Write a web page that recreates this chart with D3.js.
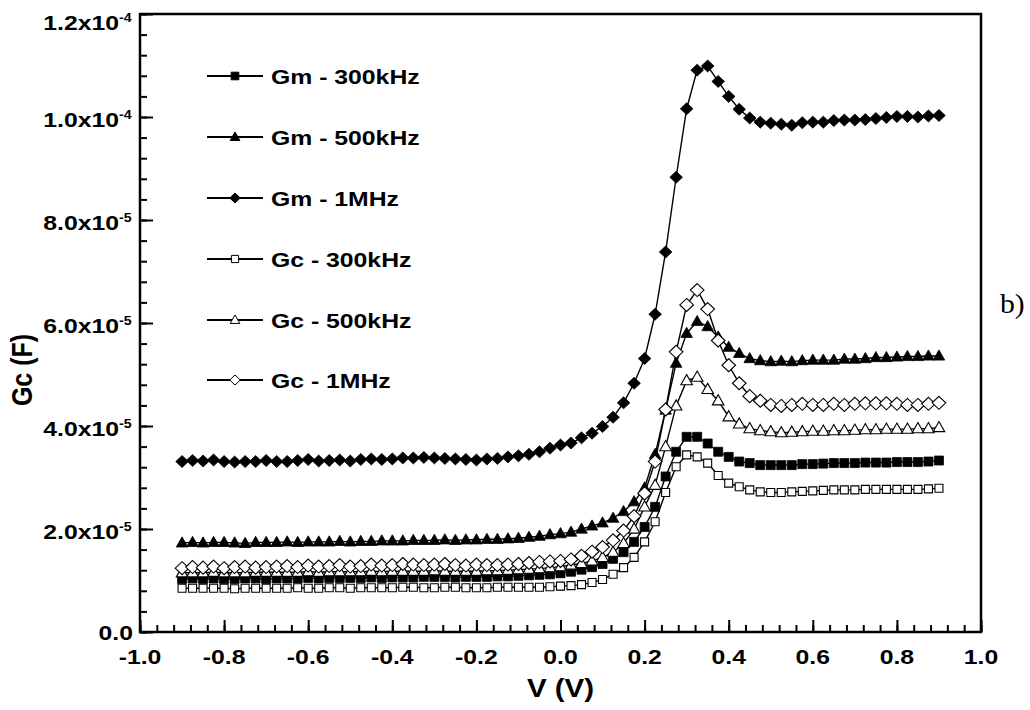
<!DOCTYPE html>
<html>
<head>
<meta charset="utf-8">
<script src="https://cdn.jsdelivr.net/npm/d3@7"></script>
<style>
    body { margin: 0; background: #fff; }
    svg text { font-family: "Liberation Sans", Arial, sans-serif; font-weight: bold; fill: #000; }
</style>
</head>
<body>
<div id="chart"></div>
<script>

// bias voltage (V)
var voltage = [-0.9, -0.875, -0.85, -0.825, -0.8, -0.775, -0.75, -0.725, -0.7, -0.675,
    -0.65, -0.625, -0.6, -0.575, -0.55, -0.525, -0.5, -0.475, -0.45, -0.425,
    -0.4, -0.375, -0.35, -0.325, -0.3, -0.275, -0.25, -0.225, -0.2, -0.175,
    -0.15, -0.125, -0.1, -0.075, -0.05, -0.025, 0, 0.025, 0.05, 0.075,
    0.1, 0.125, 0.15, 0.175, 0.2, 0.225, 0.25, 0.275, 0.3, 0.325,
    0.35, 0.375, 0.4, 0.425, 0.45, 0.475, 0.5, 0.525, 0.55, 0.575,
    0.6, 0.625, 0.65, 0.675, 0.7, 0.725, 0.75, 0.775, 0.8, 0.825,
    0.85, 0.875, 0.9];

// values in units of 1e-5
var gm300k = [1.03, 1.04, 1.03, 1.04, 1.03, 1.03, 1.04, 1.04, 1.03, 1.04,
    1.04, 1.04, 1.05, 1.04, 1.05, 1.05, 1.05, 1.05, 1.06, 1.05,
    1.06, 1.06, 1.06, 1.07, 1.07, 1.07, 1.06, 1.07, 1.07, 1.07,
    1.08, 1.08, 1.09, 1.10, 1.11, 1.12, 1.14, 1.17, 1.21, 1.26,
    1.32, 1.42, 1.55, 1.75, 2.04, 2.43, 3.02, 3.50, 3.79, 3.79,
    3.66, 3.50, 3.40, 3.31, 3.28, 3.24, 3.24, 3.24, 3.24, 3.26,
    3.26, 3.27, 3.28, 3.28, 3.28, 3.29, 3.29, 3.29, 3.30, 3.30,
    3.30, 3.31, 3.33];

var gm500k = [1.73, 1.74, 1.73, 1.74, 1.74, 1.73, 1.72, 1.74, 1.74, 1.74,
    1.75, 1.74, 1.75, 1.75, 1.75, 1.76, 1.75, 1.76, 1.76, 1.77,
    1.77, 1.77, 1.78, 1.78, 1.78, 1.79, 1.78, 1.79, 1.79, 1.80,
    1.80, 1.81, 1.82, 1.84, 1.86, 1.89, 1.91, 1.94, 2.00, 2.06,
    2.12, 2.21, 2.34, 2.53, 2.80, 3.45, 4.31, 5.22, 5.80, 6.03,
    5.93, 5.73, 5.53, 5.41, 5.31, 5.27, 5.25, 5.26, 5.25, 5.27,
    5.28, 5.28, 5.28, 5.30, 5.30, 5.31, 5.33, 5.33, 5.34, 5.35,
    5.35, 5.36, 5.36];

var gm1M = [3.31, 3.33, 3.32, 3.34, 3.31, 3.30, 3.31, 3.31, 3.33, 3.31,
    3.31, 3.33, 3.35, 3.32, 3.33, 3.34, 3.32, 3.35, 3.36, 3.35,
    3.36, 3.38, 3.38, 3.39, 3.38, 3.37, 3.36, 3.35, 3.34, 3.36,
    3.37, 3.40, 3.42, 3.45, 3.50, 3.57, 3.63, 3.67, 3.77, 3.86,
    3.99, 4.17, 4.45, 4.83, 5.31, 6.17, 7.38, 8.83, 10.16, 10.91,
    10.99, 10.69, 10.40, 10.15, 9.98, 9.90, 9.88, 9.86, 9.84, 9.89,
    9.90, 9.90, 9.93, 9.94, 9.94, 9.95, 9.97, 9.99, 10.01, 10.01,
    10.00, 10.02, 10.03];

var gc300k = [0.85, 0.85, 0.85, 0.85, 0.85, 0.84, 0.85, 0.85, 0.85, 0.85,
    0.85, 0.86, 0.85, 0.85, 0.86, 0.86, 0.85, 0.86, 0.86, 0.86,
    0.86, 0.87, 0.87, 0.86, 0.86, 0.87, 0.87, 0.86, 0.86, 0.86,
    0.87, 0.87, 0.87, 0.87, 0.87, 0.88, 0.89, 0.90, 0.92, 0.96,
    1.02, 1.12, 1.25, 1.45, 1.75, 2.14, 2.71, 3.21, 3.44, 3.40,
    3.28, 3.04, 2.89, 2.82, 2.76, 2.72, 2.71, 2.71, 2.72, 2.73,
    2.74, 2.75, 2.76, 2.76, 2.76, 2.77, 2.77, 2.77, 2.77, 2.77,
    2.77, 2.78, 2.79];

var gc500k = [1.15, 1.15, 1.15, 1.16, 1.15, 1.15, 1.15, 1.16, 1.16, 1.16,
    1.16, 1.16, 1.17, 1.16, 1.17, 1.17, 1.17, 1.17, 1.18, 1.17,
    1.18, 1.18, 1.18, 1.18, 1.19, 1.18, 1.18, 1.18, 1.18, 1.19,
    1.19, 1.20, 1.21, 1.22, 1.23, 1.25, 1.27, 1.30, 1.33, 1.38,
    1.45, 1.55, 1.72, 2.00, 2.43, 2.85, 3.60, 4.39, 4.88, 4.95,
    4.71, 4.49, 4.18, 4.04, 3.95, 3.91, 3.89, 3.87, 3.88, 3.89,
    3.90, 3.90, 3.91, 3.91, 3.92, 3.93, 3.93, 3.94, 3.94, 3.94,
    3.95, 3.95, 3.97];

var gc1M = [1.24, 1.26, 1.25, 1.27, 1.24, 1.26, 1.27, 1.25, 1.26, 1.27,
    1.28, 1.26, 1.29, 1.27, 1.28, 1.30, 1.27, 1.28, 1.31, 1.29,
    1.30, 1.32, 1.31, 1.30, 1.31, 1.32, 1.30, 1.29, 1.31, 1.30,
    1.30, 1.31, 1.32, 1.34, 1.36, 1.37, 1.38, 1.41, 1.48, 1.56,
    1.65, 1.78, 1.97, 2.25, 2.69, 3.31, 4.32, 5.44, 6.35, 6.64,
    6.27, 5.66, 5.18, 4.83, 4.58, 4.49, 4.41, 4.39, 4.41, 4.43,
    4.41, 4.41, 4.43, 4.41, 4.43, 4.44, 4.44, 4.44, 4.43, 4.41,
    4.41, 4.43, 4.45];

var seriesNames = ['Gm - 300kHz', 'Gm - 500kHz', 'Gm - 1MHz', 'Gc - 300kHz', 'Gc - 500kHz', 'Gc - 1MHz'];
var seriesValues = [gm300k, gm500k, gm1M, gc300k, gc500k, gc1M];

var xTickValues = [-1.0, -0.8, -0.6, -0.4, -0.2, 0.0, 0.2, 0.4, 0.6, 0.8, 1.0];
var xTickLabels = ['-1.0', '-0.8', '-0.6', '-0.4', '-0.2', '0.0', '0.2', '0.4', '0.6', '0.8', '1.0'];
var yTickValues = [0, 2, 4, 6, 8, 10, 12];
var yTickMantissa = ['0.0', '2.0x10', '4.0x10', '6.0x10', '8.0x10', '1.0x10', '1.2x10'];
var yTickExponent = ['', '-5', '-5', '-5', '-5', '-4', '-4'];

var xTitle = 'V (V)';
var yTitle = 'Gc (F)';
var panelTag = 'b)';

drawChart('#chart');

function diamondShape(ctx, r) {
    ctx.moveTo(0, -r);
    ctx.lineTo(r * 1.05, 0);
    ctx.lineTo(0, r);
    ctx.lineTo(-r * 1.05, 0);
    ctx.closePath();
}

function squareShape(ctx, r) {
    ctx.moveTo(-r, -r);
    ctx.lineTo(r, -r);
    ctx.lineTo(r, r);
    ctx.lineTo(-r, r);
    ctx.closePath();
}

function triangleShape(ctx, r) {
    ctx.moveTo(0, -r * 1.1);
    ctx.lineTo(r * 1.05, r * 0.75);
    ctx.lineTo(-r * 1.05, r * 0.75);
    ctx.closePath();
}

function drawChart(element) {

    var width = 1030;
    var height = 710;
    var margin = ({ top: 14, right: 49, bottom: 78, left: 140 });
    var stretch = 'scale(1.18,1)';

    // marker style per series: shape, filled, half size in plot, half size in legend
    var styles = [
        { shape: squareShape, filled: true, r: 4.5, lr: 3.8 },
        { shape: triangleShape, filled: true, r: 5.5, lr: 4.6 },
        { shape: diamondShape, filled: true, r: 6, lr: 5 },
        { shape: squareShape, filled: false, r: 4, lr: 3.6 },
        { shape: triangleShape, filled: false, r: 5.5, lr: 4.6 },
        { shape: diamondShape, filled: false, r: 6.5, lr: 5 }
    ];

    var x = d3.scaleLinear()
        .domain([-1, 1])
        .range([margin.left, width - margin.right]);
    var y = d3.scaleLinear()
        .domain([0, 12])
        .range([height - margin.bottom, margin.top]);

    var svg = d3.select(element)
        .append('svg')
        .attr('width', width)
        .attr('height', height);

    // ticks point inward, labels drawn separately
    var xMinor = d3.range(-1, 1.0001, 0.04).map(d => +d.toFixed(2));
    var yMinor = d3.range(0, 12.0001, 0.4).map(d => +d.toFixed(1));

    svg.append('g')
        .attr('transform', `translate(0,${y(0)})`)
        .call(d3.axisBottom(x).tickValues(xMinor).tickSize(-7).tickFormat(''))
        .call(g => g.select('.domain').remove())
        .call(g => g.selectAll('line').attr('stroke-width', 2));
    svg.append('g')
        .attr('transform', `translate(0,${y(0)})`)
        .call(d3.axisBottom(x).tickValues(xTickValues).tickSize(-12).tickFormat(''))
        .call(g => g.select('.domain').remove())
        .call(g => g.selectAll('line').attr('stroke-width', 2));
    svg.append('g')
        .attr('transform', `translate(${x(-1)},0)`)
        .call(d3.axisLeft(y).tickValues(yMinor).tickSize(-7).tickFormat(''))
        .call(g => g.select('.domain').remove())
        .call(g => g.selectAll('line').attr('stroke-width', 2));
    svg.append('g')
        .attr('transform', `translate(${x(-1)},0)`)
        .call(d3.axisLeft(y).tickValues(yTickValues).tickSize(-13).tickFormat(''))
        .call(g => g.select('.domain').remove())
        .call(g => g.selectAll('line').attr('stroke-width', 2));

    // frame
    svg.append('rect')
        .attr('x', x(-1))
        .attr('y', y(12))
        .attr('width', x(1) - x(-1))
        .attr('height', y(0) - y(12))
        .attr('fill', 'none')
        .attr('stroke', '#000')
        .attr('stroke-width', 2.5);

    // x tick labels
    svg.append('g')
        .selectAll('text').data(xTickValues).enter().append('text')
        .attr('transform', d => `translate(${x(d)},664) ${stretch}`)
        .attr('text-anchor', 'middle')
        .attr('font-size', 21)
        .text((d, i) => xTickLabels[i]);

    // y tick labels with superscript exponent
    var yLab = svg.append('g')
        .selectAll('g').data(yTickValues).enter().append('g');
    yLab.append('text')
        .attr('transform', (d, i) => {
            var by = i === 0 ? y(d) + 8 : Math.max(y(d) + 10, 30);
            var ex = i === 0 ? 133 : 119;
            return `translate(${ex},${by}) ${stretch}`;
        })
        .attr('text-anchor', 'end')
        .attr('font-size', 21)
        .text((d, i) => yTickMantissa[i]);
    yLab.append('text')
        .attr('transform', d => `translate(119,${Math.max(y(d) + 10, 30) - 8}) ${stretch}`)
        .attr('text-anchor', 'start')
        .attr('font-size', 12)
        .text((d, i) => yTickExponent[i]);

    // axis titles
    svg.append('text')
        .attr('transform', `translate(${x(0)},697) ${stretch}`)
        .attr('text-anchor', 'middle')
        .attr('font-size', 25)
        .text(xTitle);
    svg.append('text')
        .attr('transform', `translate(32,370) ${stretch} rotate(-90)`)
        .attr('text-anchor', 'middle')
        .attr('font-size', 25)
        .text(yTitle);

    svg.append('text')
        .attr('transform', `translate(1000,313) scale(1.1,1)`)
        .style('font-family', '"Liberation Serif", "Times New Roman", serif')
        .style('font-weight', 'normal')
        .attr('font-size', 27)
        .text(panelTag);

    // series
    var line = d3.line()
        .x((d, i) => x(voltage[i]))
        .y(d => y(d));

    seriesValues.forEach((values, k) => {
        var st = styles[k];
        var sym = d3.symbol().type({ draw: st.shape }).size(st.r);
        var g = svg.append('g');
        g.append('path')
            .attr('d', line(values))
            .attr('fill', 'none')
            .attr('stroke', '#000')
            .attr('stroke-width', 1.4);
        g.selectAll('path.m').data(values).enter().append('path')
            .attr('class', 'm')
            .attr('transform', (d, i) => `translate(${x(voltage[i])},${y(d)})`)
            .attr('d', sym())
            .attr('fill', st.filled ? '#000' : '#fff')
            .attr('stroke', '#000')
            .attr('stroke-width', st.filled ? 0.8 : 1.1);
    });

    // legend
    var legendRows = [76, 137, 198, 259, 320, 380];
    var leg = svg.append('g')
        .selectAll('g').data(seriesNames).enter().append('g')
        .attr('transform', (d, i) => `translate(0,${legendRows[i]})`);
    leg.append('line')
        .attr('x1', 207).attr('x2', 263)
        .attr('y1', 0).attr('y2', 0)
        .attr('stroke', '#000')
        .attr('stroke-width', 2);
    leg.append('path')
        .attr('transform', 'translate(235,0)')
        .attr('d', (d, i) => d3.symbol().type({ draw: styles[i].shape }).size(styles[i].lr)())
        .attr('fill', (d, i) => styles[i].filled ? '#000' : '#fff')
        .attr('stroke', '#000')
        .attr('stroke-width', 1);
    leg.append('text')
        .attr('transform', `translate(271,7.5) ${stretch}`)
        .attr('font-size', 21)
        .text(d => d);

    svg.node();
}
</script>
</body>
</html>
